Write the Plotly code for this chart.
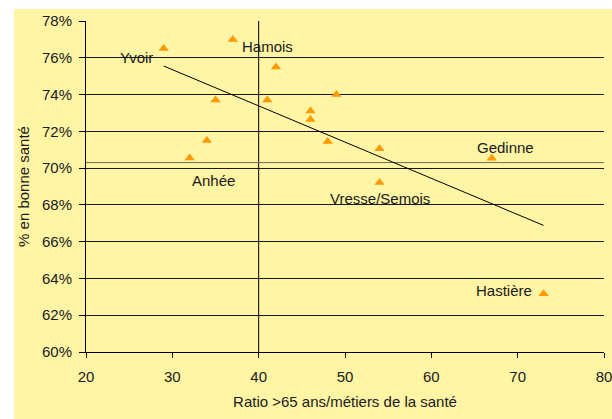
import numpy as np
import plotly.graph_objects as go

# Communes: ratio of people over 65 per health worker vs. share in good health
communes = ["Yvoir", "Hamois", "", "", "", "", "", "", "", "Anhée", "", "", "Gedinne", "Vresse/Semois", "Hastière"]
ratio_65 = [29, 37, 42, 35, 41, 46, 46, 49, 34, 32, 48, 54, 67, 54, 73]
pct_good_health = [76.5, 77.0, 75.5, 73.7, 73.7, 73.1, 72.65, 74.0, 71.5, 70.55, 71.45, 71.05, 70.53, 69.22, 63.17]

# Reference levels drawn across the plot
ref_ratio = 40
ref_pct = 70.3

x_range = [20, 80]
y_range = [60, 78]
x_ticks = [20, 30, 40, 50, 60, 70, 80]
y_ticks = [60, 62, 64, 66, 68, 70, 72, 74, 76, 78]
y_tick_labels = [f"{v}%" for v in y_ticks]

# Label offsets (pixels) for the named communes
label_pos = {
    "Yvoir": dict(xanchor="right", xshift=-9, yshift=-9),
    "Hamois": dict(xanchor="left", xshift=7, yshift=-7),
    "Anhée": dict(xanchor="center", xshift=24, yshift=-22),
    "Gedinne": dict(xanchor="center", xshift=14, yshift=11),
    "Vresse/Semois": dict(xanchor="center", xshift=0, yshift=-16),
    "Hastière": dict(xanchor="right", xshift=-10, yshift=3),
}

FONT = "Arial, Liberation Sans, sans-serif"
YELLOW = "#FFF5A5"
ORANGE = "#FF9900"
TEXT = "#1a1a1a"

# Least-squares trend line over the observed ratio span
slope, intercept = np.polyfit(ratio_65, pct_good_health, 1)
trend_x = [min(ratio_65), max(ratio_65)]
trend_y = [slope * v + intercept for v in trend_x]

fig = go.Figure()

fig.add_trace(go.Scatter(
    x=[ref_ratio, ref_ratio], y=y_range, mode="lines",
    line=dict(color="#000000", width=1), hoverinfo="skip", showlegend=False,
))
fig.add_trace(go.Scatter(
    x=x_range, y=[ref_pct, ref_pct], mode="lines",
    line=dict(color="#6e6e5a", width=1), hoverinfo="skip", showlegend=False,
))
fig.add_trace(go.Scatter(
    x=trend_x, y=trend_y, mode="lines",
    line=dict(color="#000000", width=1), hoverinfo="skip", showlegend=False,
))
fig.add_trace(go.Scatter(
    x=ratio_65, y=pct_good_health, mode="markers",
    marker=dict(symbol="triangle-up", size=9, color=ORANGE, line=dict(width=0)),
    text=communes, showlegend=False,
))

for name, xv, yv in zip(communes, ratio_65, pct_good_health):
    if not name:
        continue
    fig.add_annotation(
        x=xv, y=yv, text=name, showarrow=False, yanchor="middle",
        font=dict(family=FONT, size=15, color=TEXT), **label_pos[name],
    )

# Pale yellow chart panel behind the plot
fig.add_shape(
    type="rect", xref="paper", yref="paper", x0=-0.139, x1=1.05, y0=-0.3, y1=1.036,
    fillcolor=YELLOW, line=dict(width=0), layer="below",
)

fig.update_layout(
    width=612, height=419,
    margin=dict(l=86, r=0, t=21, b=67),
    paper_bgcolor="#FFFFFF",
    plot_bgcolor="rgba(0,0,0,0)",
    font=dict(family=FONT, size=15, color=TEXT),
    xaxis=dict(
        range=x_range, tickvals=x_ticks, showgrid=False, zeroline=False,
        showline=True, linecolor="#000000", linewidth=1,
        ticks="outside", ticklen=5, tickcolor="#000000",
        ticklabeloverflow="allow", ticklabelstandoff=6,
        title=dict(text="Ratio >65 ans/métiers de la santé", standoff=12,
                   font=dict(family=FONT, size=15, color=TEXT)),
    ),
    yaxis=dict(
        range=y_range, tickvals=y_ticks, ticktext=y_tick_labels,
        showgrid=True, gridcolor="#1a1a1a", gridwidth=1, zeroline=False,
        showline=True, linecolor="#000000", linewidth=1,
        ticks="outside", ticklen=6, tickcolor="#000000", ticklabelstandoff=4,
        title=dict(text="% en bonne santé", standoff=8,
                   font=dict(family=FONT, size=15, color=TEXT)),
    ),
)

fig.write_html("out.html")
